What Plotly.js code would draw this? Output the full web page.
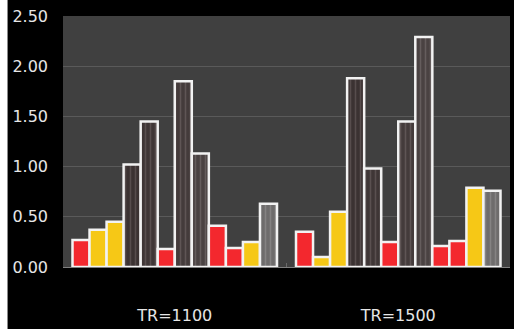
<!DOCTYPE html>
<html>
<head>
<meta charset="utf-8">
<script src="https://cdn.plot.ly/plotly-3.0.1.min.js"></script>
<style>
  html, body { margin: 0; padding: 0; background: #ffffff; width: 514px; height: 329px; overflow: hidden; }
  #chart { position: absolute; left: 7px; top: 0; width: 506px; height: 329px; border-left: 1px solid #8a8a8a; background: #000; }
</style>
</head>
<body>
<div id="chart"></div>
<script>
// Data
const categories = ["TR=1100", "TR=1500"];
const seriesNames = ["S1","S2","S3","S4","S5","S6","S7","S8","S9","S10","S11","S12"];
const tr1100 = [0.27, 0.37, 0.45, 1.02, 1.45, 0.18, 1.85, 1.13, 0.41, 0.19, 0.25, 0.63];
const tr1500 = [0.35, 0.10, 0.55, 1.88, 0.98, 0.25, 1.45, 2.29, 0.21, 0.26, 0.79, 0.76];
const yTicks = [0, 0.5, 1.0, 1.5, 2.0, 2.5];

// Styles
const RED = "#f3282e", ORG = "#f6c816", GRY = "#6e6c6c";
const seriesColors = [RED, ORG, ORG, "#3b3232", "#3f3636", RED, "#443b3b", "#4a4242", RED, RED, ORG, GRY];
const stripeColors = [null, null, null, "#574d4d", "#5a5050", null, "#5f5555", "#655d5d", null, null, null, "#858383"];

const traces = seriesNames.map((name, i) => ({
  type: "bar",
  name: name,
  x: categories,
  y: [tr1100[i], tr1500[i]],
  marker: {
    color: seriesColors[i],
    line: { color: "#f2f2f2", width: 2.5 },
    pattern: stripeColors[i]
      ? { shape: "|", fillmode: "overlay", bgcolor: seriesColors[i], fgcolor: stripeColors[i], size: 5, solidity: 0.3, fgopacity: 1 }
      : { shape: "" }
  },
  hoverinfo: "none"
}));

const layout = {
  width: 506, height: 329,
  paper_bgcolor: "#000000",
  plot_bgcolor: "#404040",
  margin: { l: 55, r: 4, t: 16, b: 62 },
  showlegend: false,
  barmode: "group",
  bargap: 0.085,
  bargroupgap: 0,
  font: { family: "DejaVu Sans, Verdana, sans-serif", size: 16, color: "#e6e6e6" },
  xaxis: {
    type: "category",
    showgrid: false,
    ticks: "inside",
    tickson: "boundaries",
    ticklen: 4,
    tickcolor: "#6a6a6a",
    ticklabelstandoff: 34,
    tickfont: { size: 16, color: "#e6e6e6" },
    showline: true,
    linecolor: "#808080",
    linewidth: 1
  },
  yaxis: {
    range: [0, 2.5],
    tickvals: yTicks,
    tickformat: ".2f",
    showgrid: true,
    gridcolor: "#5a5a5a",
    gridwidth: 1,
    zeroline: true,
    zerolinecolor: "#808080",
    ticks: "",
    ticklabelstandoff: 14,
    tickfont: { size: 16, color: "#e6e6e6" },
    showline: false
  }
};

Plotly.newPlot("chart", traces, layout, { displayModeBar: false, staticPlot: true });
</script>
</body>
</html>
